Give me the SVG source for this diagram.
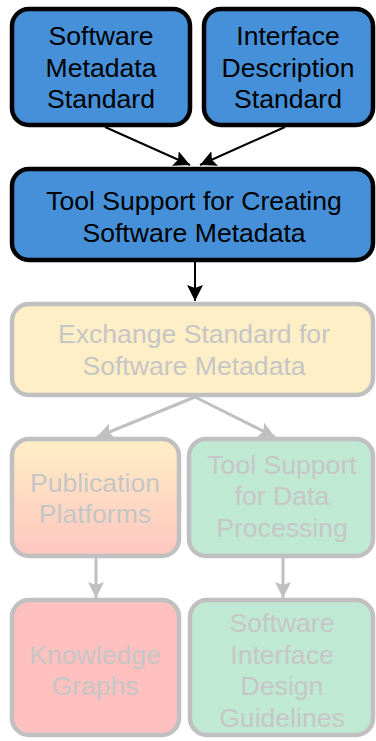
<svg xmlns="http://www.w3.org/2000/svg" width="376" height="741" viewBox="0 0 376 741">
  <defs>
    <marker id="arrow-dark" viewBox="0 0 16 16" refX="16" refY="8" markerWidth="16" markerHeight="16" markerUnits="userSpaceOnUse" orient="auto">
      <path d="M0,0 L16,8 L0,16 L3,8 Z" fill="#000"/>
    </marker>
    <marker id="arrow-faint" viewBox="0 0 16 16" refX="16" refY="8" markerWidth="16" markerHeight="16" markerUnits="userSpaceOnUse" orient="auto">
      <path d="M0,0 L16,8 L0,16 L3,8 Z" fill="#c0c0c0"/>
    </marker>
    <linearGradient id="pub-fill" x1="0" y1="0" x2="0" y2="1">
      <stop offset="0" stop-color="#ffefc6"/>
      <stop offset="1" stop-color="#ffc6c0"/>
    </linearGradient>
  </defs>
  <style>
    .box { stroke-width: 4.5; }
    .active { fill: #4590d8; stroke: #000; }
    .faded { stroke: #c0c0c0; }
    .yellow { fill: #ffefc6; }
    .green { fill: #c0e9d4; }
    .red { fill: #ffc0c0; }
    text { font-family: "Liberation Sans", Arial, sans-serif; font-size: 26.6px; text-anchor: middle; }
    .dark { fill: #000; }
    .light { fill: #c6c6c6; }
    .edge-dark { stroke: #000; stroke-width: 2; fill: none; marker-end: url(#arrow-dark); }
    .edge-faint { stroke: #c0c0c0; stroke-width: 3; fill: none; marker-end: url(#arrow-faint); }
  </style>

  <g id="connectors">
    <line class="edge-dark" x1="105" y1="127" x2="190" y2="165"/>
    <line class="edge-dark" x1="285" y1="127" x2="200" y2="165"/>
    <line class="edge-dark" x1="195" y1="262" x2="195" y2="301"/>
    <line class="edge-faint" x1="195" y1="397" x2="97" y2="437"/>
    <line class="edge-faint" x1="195" y1="397" x2="275" y2="437"/>
    <line class="edge-faint" x1="96" y1="558" x2="96" y2="598"/>
    <line class="edge-faint" x1="283" y1="558" x2="283" y2="598"/>
  </g>

  <g id="software-metadata-standard">
    <rect class="box active" x="12" y="9" width="178" height="116" rx="17"/>
    <text class="dark" x="101" y="45">Software</text>
    <text class="dark" x="101" y="77">Metadata</text>
    <text class="dark" x="101" y="108">Standard</text>
  </g>

  <g id="interface-description-standard">
    <rect class="box active" x="204" y="9" width="169" height="116" rx="17"/>
    <text class="dark" x="288" y="45">Interface</text>
    <text class="dark" x="288" y="77">Description</text>
    <text class="dark" x="288" y="108">Standard</text>
  </g>

  <g id="tool-support-creating">
    <rect class="box active" x="12" y="169" width="361" height="91" rx="17"/>
    <text class="dark" x="194" y="210">Tool Support for Creating</text>
    <text class="dark" x="194" y="242">Software Metadata</text>
  </g>

  <g id="exchange-standard">
    <rect class="box faded yellow" x="12" y="304" width="361" height="91" rx="17"/>
    <text class="light" x="194" y="343">Exchange Standard for</text>
    <text class="light" x="194" y="375">Software Metadata</text>
  </g>

  <g id="publication-platforms">
    <rect class="box faded" fill="url(#pub-fill)" x="12" y="439" width="167" height="117" rx="17"/>
    <text class="light" x="95" y="492">Publication</text>
    <text class="light" x="95" y="523">Platforms</text>
  </g>

  <g id="tool-support-data-processing">
    <rect class="box faded green" x="189" y="439" width="184" height="117" rx="17"/>
    <text class="light" x="282" y="474">Tool Support</text>
    <text class="light" x="282" y="505">for Data</text>
    <text class="light" x="282" y="537">Processing</text>
  </g>

  <g id="knowledge-graphs">
    <rect class="box faded red" x="12" y="600" width="167" height="135" rx="17"/>
    <text class="light" x="95" y="664">Knowledge</text>
    <text class="light" x="95" y="695">Graphs</text>
  </g>

  <g id="software-interface-design-guidelines">
    <rect class="box faded green" x="190" y="600" width="183" height="135" rx="17"/>
    <text class="light" x="282" y="632">Software</text>
    <text class="light" x="282" y="664">Interface</text>
    <text class="light" x="282" y="695">Design</text>
    <text class="light" x="282" y="727">Guidelines</text>
  </g>
</svg>
